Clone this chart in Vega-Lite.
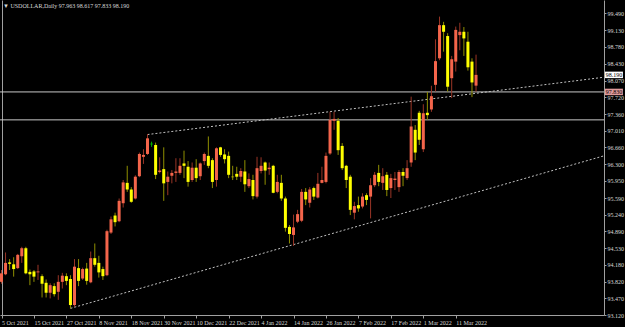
{
"$schema": "https://vega.github.io/schema/vega-lite/v6.json",
"width": 604, "height": 315,
"autosize": {"type": "none"},
"padding": {"left": 0, "top": 0, "right": 21, "bottom": 12},
"background": "#000000",
"config": {"view": {"stroke": null}, "font": "Liberation Sans Narrow"},
"title": {"text": "▼ USDOLLAR,Daily  97.963 98.617 97.833 98.190", "anchor": "start", "frame": "group", "orient": "top", "offset": -9, "fontSize": 6, "fontWeight": "normal", "font": "Liberation Sans Narrow", "color": "#d8d8d8", "dx": 3},
"resolve": {"axis": {"y": "independent"}},
"datasets": {
"bars": [
{"i":0,"d":"2021-10-05","o":93.82,"h":94.07,"l":93.78,"c":94.00},
{"i":1,"d":"2021-10-06","o":93.98,"h":94.44,"l":93.96,"c":94.22},
{"i":2,"d":"2021-10-07","o":94.23,"h":94.30,"l":94.07,"c":94.20},
{"i":3,"d":"2021-10-08","o":94.19,"h":94.34,"l":93.93,"c":94.09},
{"i":4,"d":"2021-10-11","o":94.11,"h":94.41,"l":94.09,"c":94.39},
{"i":5,"d":"2021-10-12","o":94.36,"h":94.56,"l":94.22,"c":94.53},
{"i":6,"d":"2021-10-13","o":94.53,"h":94.56,"l":93.98,"c":94.00},
{"i":7,"d":"2021-10-14","o":94.03,"h":94.08,"l":93.75,"c":93.98},
{"i":8,"d":"2021-10-15","o":94.04,"h":94.07,"l":93.82,"c":93.93},
{"i":9,"d":"2021-10-18","o":94.02,"h":94.18,"l":93.86,"c":94.04},
{"i":10,"d":"2021-10-19","o":93.94,"h":93.98,"l":93.49,"c":93.78},
{"i":11,"d":"2021-10-20","o":93.80,"h":93.87,"l":93.49,"c":93.59},
{"i":12,"d":"2021-10-21","o":93.59,"h":93.79,"l":93.47,"c":93.75},
{"i":13,"d":"2021-10-22","o":93.73,"h":93.79,"l":93.51,"c":93.56},
{"i":14,"d":"2021-10-25","o":93.61,"h":93.96,"l":93.44,"c":93.82},
{"i":15,"d":"2021-10-26","o":93.82,"h":94.01,"l":93.68,"c":93.95},
{"i":16,"d":"2021-10-27","o":93.94,"h":94.00,"l":93.75,"c":93.84},
{"i":17,"d":"2021-10-28","o":93.88,"h":93.96,"l":93.26,"c":93.33},
{"i":18,"d":"2021-10-29","o":93.33,"h":94.30,"l":93.29,"c":94.14},
{"i":19,"d":"2021-11-01","o":94.11,"h":94.30,"l":93.73,"c":93.84},
{"i":20,"d":"2021-11-02","o":93.89,"h":94.12,"l":93.86,"c":94.09},
{"i":21,"d":"2021-11-03","o":94.10,"h":94.22,"l":93.76,"c":93.84},
{"i":22,"d":"2021-11-04","o":93.81,"h":94.46,"l":93.79,"c":94.32},
{"i":23,"d":"2021-11-05","o":94.32,"h":94.63,"l":94.14,"c":94.18},
{"i":24,"d":"2021-11-08","o":94.22,"h":94.37,"l":93.91,"c":94.02},
{"i":25,"d":"2021-11-09","o":94.09,"h":94.14,"l":93.86,"c":93.94},
{"i":26,"d":"2021-11-10","o":93.96,"h":94.92,"l":93.94,"c":94.89},
{"i":27,"d":"2021-11-11","o":94.86,"h":95.20,"l":94.83,"c":95.14},
{"i":28,"d":"2021-11-12","o":95.22,"h":95.28,"l":94.99,"c":95.08},
{"i":29,"d":"2021-11-15","o":95.10,"h":95.58,"l":95.08,"c":95.53},
{"i":30,"d":"2021-11-16","o":95.48,"h":95.97,"l":95.39,"c":95.92},
{"i":31,"d":"2021-11-17","o":95.91,"h":96.27,"l":95.72,"c":95.77},
{"i":32,"d":"2021-11-18","o":95.77,"h":95.82,"l":95.49,"c":95.51},
{"i":33,"d":"2021-11-19","o":95.58,"h":96.07,"l":95.56,"c":96.04},
{"i":34,"d":"2021-11-22","o":96.05,"h":96.55,"l":96.03,"c":96.52},
{"i":35,"d":"2021-11-23","o":96.46,"h":96.62,"l":96.31,"c":96.50},
{"i":36,"d":"2021-11-24","o":96.52,"h":96.94,"l":96.50,"c":96.85},
{"i":37,"d":"2021-11-25","o":96.73,"h":96.78,"l":96.67,"c":96.73},
{"i":38,"d":"2021-11-26","o":96.71,"h":96.76,"l":95.99,"c":96.08},
{"i":39,"d":"2021-11-29","o":96.14,"h":96.45,"l":96.11,"c":96.17},
{"i":40,"d":"2021-11-30","o":96.20,"h":96.66,"l":95.53,"c":95.90},
{"i":41,"d":"2021-12-01","o":95.93,"h":96.15,"l":95.65,"c":96.04},
{"i":42,"d":"2021-12-02","o":96.06,"h":96.18,"l":95.90,"c":96.12},
{"i":43,"d":"2021-12-03","o":96.12,"h":96.43,"l":95.93,"c":96.15},
{"i":44,"d":"2021-12-06","o":96.12,"h":96.43,"l":96.08,"c":96.27},
{"i":45,"d":"2021-12-07","o":96.32,"h":96.59,"l":96.01,"c":96.27},
{"i":46,"d":"2021-12-08","o":96.25,"h":96.37,"l":95.83,"c":95.93},
{"i":47,"d":"2021-12-09","o":95.97,"h":96.34,"l":95.93,"c":96.23},
{"i":48,"d":"2021-12-10","o":96.23,"h":96.41,"l":95.93,"c":96.01},
{"i":49,"d":"2021-12-13","o":96.05,"h":96.34,"l":95.97,"c":96.32},
{"i":50,"d":"2021-12-14","o":96.37,"h":96.55,"l":96.29,"c":96.52},
{"i":51,"d":"2021-12-15","o":96.48,"h":96.89,"l":96.22,"c":96.27},
{"i":52,"d":"2021-12-16","o":96.39,"h":96.43,"l":95.80,"c":95.93},
{"i":53,"d":"2021-12-17","o":95.97,"h":96.66,"l":95.83,"c":96.64},
{"i":54,"d":"2021-12-20","o":96.66,"h":96.67,"l":96.46,"c":96.50},
{"i":55,"d":"2021-12-21","o":96.51,"h":96.62,"l":96.32,"c":96.41},
{"i":56,"d":"2021-12-22","o":96.48,"h":96.57,"l":96.01,"c":96.08},
{"i":57,"d":"2021-12-23","o":96.04,"h":96.27,"l":95.97,"c":96.03},
{"i":58,"d":"2021-12-27","o":96.10,"h":96.25,"l":95.97,"c":96.04},
{"i":59,"d":"2021-12-28","o":96.04,"h":96.22,"l":95.93,"c":96.16},
{"i":60,"d":"2021-12-29","o":96.15,"h":96.39,"l":95.72,"c":95.88},
{"i":61,"d":"2021-12-30","o":95.84,"h":96.11,"l":95.80,"c":95.99},
{"i":62,"d":"2021-12-31","o":95.97,"h":96.08,"l":95.56,"c":95.63},
{"i":63,"d":"2022-01-03","o":95.62,"h":96.46,"l":95.58,"c":96.22},
{"i":64,"d":"2022-01-04","o":96.16,"h":96.45,"l":96.11,"c":96.27},
{"i":65,"d":"2022-01-05","o":96.34,"h":96.36,"l":95.87,"c":96.17},
{"i":66,"d":"2022-01-06","o":96.20,"h":96.34,"l":96.08,"c":96.23},
{"i":67,"d":"2022-01-07","o":96.27,"h":96.29,"l":95.69,"c":95.70},
{"i":68,"d":"2022-01-10","o":95.72,"h":96.08,"l":95.69,"c":95.93},
{"i":69,"d":"2022-01-11","o":95.91,"h":96.08,"l":95.53,"c":95.58},
{"i":70,"d":"2022-01-12","o":95.58,"h":95.62,"l":94.88,"c":94.96},
{"i":71,"d":"2022-01-13","o":94.98,"h":95.02,"l":94.63,"c":94.83},
{"i":72,"d":"2022-01-14","o":94.81,"h":95.24,"l":94.58,"c":94.97},
{"i":73,"d":"2022-01-17","o":95.09,"h":95.34,"l":95.06,"c":95.25},
{"i":74,"d":"2022-01-18","o":95.11,"h":95.78,"l":95.08,"c":95.72},
{"i":75,"d":"2022-01-19","o":95.72,"h":95.80,"l":95.44,"c":95.56},
{"i":76,"d":"2022-01-20","o":95.49,"h":95.82,"l":95.39,"c":95.77},
{"i":77,"d":"2022-01-21","o":95.80,"h":95.83,"l":95.55,"c":95.62},
{"i":78,"d":"2022-01-24","o":95.60,"h":96.12,"l":95.58,"c":95.89},
{"i":79,"d":"2022-01-25","o":95.91,"h":96.25,"l":95.90,"c":95.97},
{"i":80,"d":"2022-01-26","o":95.93,"h":96.55,"l":95.90,"c":96.48},
{"i":81,"d":"2022-01-27","o":96.53,"h":97.41,"l":96.50,"c":97.24},
{"i":82,"d":"2022-01-28","o":97.22,"h":97.41,"l":97.03,"c":97.26},
{"i":83,"d":"2022-01-31","o":97.22,"h":97.28,"l":96.50,"c":96.60},
{"i":84,"d":"2022-02-01","o":96.69,"h":96.75,"l":96.18,"c":96.22},
{"i":85,"d":"2022-02-02","o":96.27,"h":96.29,"l":95.80,"c":95.97},
{"i":86,"d":"2022-02-03","o":96.04,"h":96.08,"l":95.23,"c":95.34},
{"i":87,"d":"2022-02-04","o":95.28,"h":95.51,"l":95.14,"c":95.42},
{"i":88,"d":"2022-02-07","o":95.44,"h":95.62,"l":95.30,"c":95.37},
{"i":89,"d":"2022-02-08","o":95.41,"h":95.69,"l":95.37,"c":95.62},
{"i":90,"d":"2022-02-09","o":95.65,"h":95.69,"l":95.44,"c":95.55},
{"i":91,"d":"2022-02-10","o":95.62,"h":96.01,"l":95.16,"c":95.86},
{"i":92,"d":"2022-02-11","o":95.86,"h":96.14,"l":95.82,"c":96.08},
{"i":93,"d":"2022-02-14","o":96.12,"h":96.29,"l":95.84,"c":95.93},
{"i":94,"d":"2022-02-15","o":95.91,"h":96.22,"l":95.76,"c":96.05},
{"i":95,"d":"2022-02-16","o":96.08,"h":96.14,"l":95.63,"c":95.76},
{"i":96,"d":"2022-02-17","o":95.80,"h":96.10,"l":95.59,"c":96.01},
{"i":97,"d":"2022-02-18","o":95.97,"h":96.14,"l":95.76,"c":96.00},
{"i":98,"d":"2022-02-21","o":95.82,"h":96.18,"l":95.72,"c":96.14},
{"i":99,"d":"2022-02-22","o":96.14,"h":96.22,"l":95.84,"c":96.06},
{"i":100,"d":"2022-02-23","o":96.01,"h":96.39,"l":95.97,"c":96.22},
{"i":101,"d":"2022-02-24","o":96.34,"h":97.73,"l":96.25,"c":97.10},
{"i":102,"d":"2022-02-25","o":97.03,"h":97.13,"l":96.39,"c":96.55},
{"i":103,"d":"2022-02-28","o":97.39,"h":97.43,"l":96.71,"c":96.82},
{"i":104,"d":"2022-03-01","o":96.62,"h":97.57,"l":96.56,"c":97.38},
{"i":105,"d":"2022-03-02","o":97.39,"h":97.83,"l":97.24,"c":97.34},
{"i":106,"d":"2022-03-03","o":97.46,"h":97.96,"l":97.41,"c":97.74},
{"i":107,"d":"2022-03-04","o":97.98,"h":98.94,"l":97.84,"c":98.48},
{"i":108,"d":"2022-03-07","o":98.54,"h":99.42,"l":98.50,"c":99.24},
{"i":109,"d":"2022-03-08","o":99.24,"h":99.31,"l":98.68,"c":99.10},
{"i":110,"d":"2022-03-09","o":99.01,"h":99.07,"l":97.84,"c":97.94},
{"i":111,"d":"2022-03-10","o":98.12,"h":98.59,"l":97.70,"c":98.52},
{"i":112,"d":"2022-03-11","o":98.47,"h":99.21,"l":98.26,"c":99.14},
{"i":113,"d":"2022-03-14","o":99.03,"h":99.29,"l":98.71,"c":99.10},
{"i":114,"d":"2022-03-15","o":99.10,"h":99.20,"l":98.59,"c":98.96},
{"i":115,"d":"2022-03-16","o":98.89,"h":99.10,"l":98.28,"c":98.35},
{"i":116,"d":"2022-03-17","o":98.47,"h":98.54,"l":97.72,"c":98.03},
{"i":117,"d":"2022-03-18","o":97.963,"h":98.617,"l":97.833,"c":98.190}
],
"trend": [
{"id":"upper","i":36,"p":96.93},{"id":"upper","i":148.5,"p":98.14},
{"id":"lower","i":17,"p":93.26},{"id":"lower","i":148.5,"p":96.48}
],
"hlines": [{"p":97.83},{"p":97.24}],
"tags": [{"kind":"bid","p":98.19,"t":"98.190"},{"kind":"line","p":97.83,"t":"97.830"}]
},
"layer": [
{"data": {"name": "hlines"},
 "mark": {"type": "rule", "color": "#c8c8c8", "strokeWidth": 1},
 "encoding": {
  "y": {"field": "p", "type": "quantitative", "scale": {"domain": [93.12, 99.771], "nice": false, "zero": false},
        "axis": {"orient": "left", "labels": false, "ticks": false, "domainColor": "#a0a0a0", "title": null, "offset": -2, "grid": false}}
 }},
{"data": {"name": "trend"},
 "mark": {"type": "line", "color": "#c0c0c0", "strokeWidth": 1, "strokeDash": [2, 2]},
 "encoding": {
  "x": {"field": "i", "type": "quantitative", "scale": {"domain": [-0.37, 148.55], "nice": false, "zero": false},
        "axis": {"values": [0,8,16,24,32,40,48,56,64,72,80,88,96,104,112],
                 "labelExpr": "['5 Oct 2021','15 Oct 2021','27 Oct 2021','8 Nov 2021','18 Nov 2021','30 Nov 2021','10 Dec 2021','22 Dec 2021','4 Jan 2022','14 Jan 2022','26 Jan 2022','7 Feb 2022','17 Feb 2022','1 Mar 2022','11 Mar 2022'][round(datum.value/8)]",
                 "labelAlign": "left", "labelBaseline": "top", "labelDx": 1, "labelPadding": 1, "labelColor": "#d8d8d8", "labelFontSize": 6, "labelFont": "Liberation Sans Narrow",
                 "tickSize": 3, "tickColor": "#a0a0a0", "domainColor": "#a0a0a0", "grid": false, "title": null, "labelFlush": false, "labelOverlap": false}},
  "y": {"field": "p", "type": "quantitative", "scale": {"domain": [93.12, 99.771], "nice": false, "zero": false}, "axis": null},
  "detail": {"field": "id"}
 }},
{"data": {"name": "bars"},
 "mark": {"type": "rule", "strokeWidth": 1},
 "encoding": {
  "x": {"field": "i", "type": "quantitative", "scale": {"domain": [-0.37, 148.55], "nice": false, "zero": false}},
  "y": {"field": "l", "type": "quantitative", "scale": {"domain": [93.12, 99.771], "nice": false, "zero": false},
        "axis": {"orient": "right", "values": [93.12,93.47,93.82,94.18,94.53,94.89,95.24,95.59,95.95,96.3,96.66,97.01,97.36,97.72,98.07,98.43,98.78,99.13,99.49],
                 "format": ".3f", "labelFontSize": 6, "labelFont": "Liberation Sans Narrow", "labelColor": "#d8d8d8", "labelPadding": 1,
                 "tickSize": 2, "tickColor": "#a0a0a0", "domainColor": "#a0a0a0", "grid": false, "title": null, "labelFlush": false, "labelOverlap": false}},
  "y2": {"field": "h"},
  "color": {"condition": [{"test": "datum.c > datum.o", "value": "#9a3526"}, {"test": "datum.c < datum.o", "value": "#8f8f00"}], "value": "#00b000"}
 }},
{"data": {"name": "bars"},
 "mark": {"type": "rule", "strokeWidth": 3},
 "encoding": {
  "x": {"field": "i", "type": "quantitative", "scale": {"domain": [-0.37, 148.55], "nice": false, "zero": false}},
  "y": {"field": "o", "type": "quantitative", "scale": {"domain": [93.12, 99.771], "nice": false, "zero": false}, "axis": null},
  "y2": {"field": "c"},
  "color": {"condition": [{"test": "datum.c > datum.o", "value": "#f4654b"}, {"test": "datum.c < datum.o", "value": "#ffff00"}], "value": "#00c000"}
 }},
{"data": {"name": "bars"},
 "transform": [{"filter": "datum.o == datum.c"}],
 "mark": {"type": "tick", "orient": "horizontal", "size": 3, "thickness": 1, "color": "#00c000"},
 "encoding": {
  "x": {"field": "i", "type": "quantitative", "scale": {"domain": [-0.37, 148.55], "nice": false, "zero": false}},
  "y": {"field": "o", "type": "quantitative", "scale": {"domain": [93.12, 99.771], "nice": false, "zero": false}, "axis": null}
 }},
{"data": {"name": "tags"},
 "mark": {"type": "point", "shape": "M-1,-0.36H1V0.36H-1Z", "size": 324, "filled": true, "opacity": 1, "strokeWidth": 0},
 "encoding": {
  "x": {"datum": 151, "type": "quantitative", "scale": {"domain": [-0.37, 148.55], "nice": false, "zero": false}},
  "y": {"field": "p", "type": "quantitative", "scale": {"domain": [93.12, 99.771], "nice": false, "zero": false}, "axis": null},
  "color": {"field": "kind", "type": "nominal", "scale": {"domain": ["bid", "line"], "range": ["#ffffff", "#e09a9a"]}, "legend": null}
 }},
{"data": {"name": "tags"},
 "mark": {"type": "text", "fontSize": 6, "font": "Liberation Sans Narrow", "color": "#000000", "align": "center", "baseline": "middle"},
 "encoding": {
  "x": {"datum": 151, "type": "quantitative", "scale": {"domain": [-0.37, 148.55], "nice": false, "zero": false}},
  "y": {"field": "p", "type": "quantitative", "scale": {"domain": [93.12, 99.771], "nice": false, "zero": false}, "axis": null},
  "text": {"field": "t"}
 }}
]
}
